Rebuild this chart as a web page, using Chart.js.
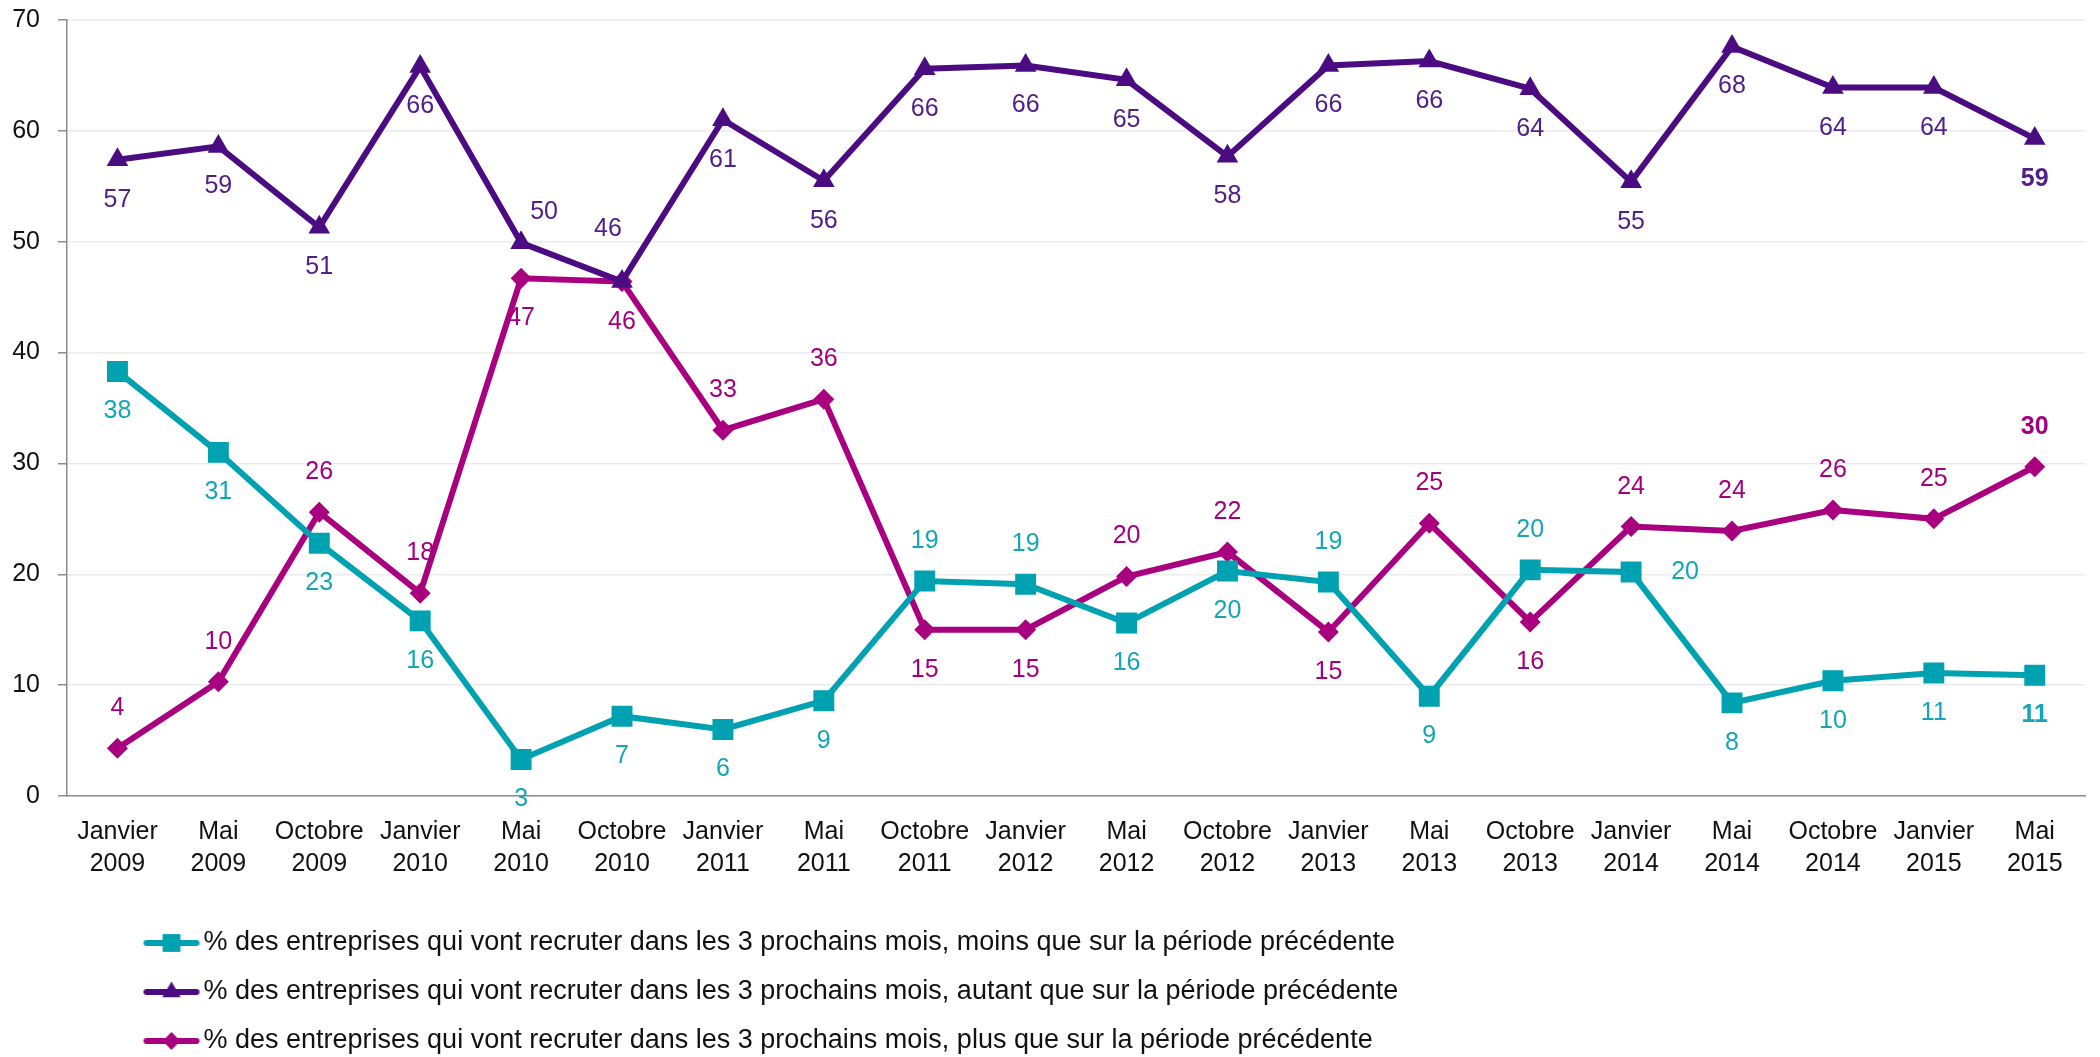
<!DOCTYPE html>
<html><head><meta charset="utf-8">
<script src="https://cdn.jsdelivr.net/npm/chart.js@4.4.0/dist/chart.umd.min.js"></script>
<style>html,body{margin:0;padding:0;background:#fff;}canvas{display:block;}</style>
</head><body>
<canvas id="c" width="2100" height="1057"></canvas>
<script>
const categories = [["Janvier","2009"],["Mai","2009"],["Octobre","2009"],["Janvier","2010"],["Mai","2010"],["Octobre","2010"],["Janvier","2011"],["Mai","2011"],["Octobre","2011"],["Janvier","2012"],["Mai","2012"],["Octobre","2012"],["Janvier","2013"],["Mai","2013"],["Octobre","2013"],["Janvier","2014"],["Mai","2014"],["Octobre","2014"],["Janvier","2015"],["Mai","2015"]];
const seriesNames = [
  "% des entreprises qui vont recruter dans les 3 prochains mois, moins que sur la période précédente",
  "% des entreprises qui vont recruter dans les 3 prochains mois, autant que sur la période précédente",
  "% des entreprises qui vont recruter dans les 3 prochains mois, plus que sur la période précédente"
];
const moins  = [38.3,31.0,22.8,15.8,3.3,7.2,6.0,8.6,19.4,19.1,15.6,20.3,19.3,9.0,20.4,20.2,8.4,10.4,11.1,10.9];
const autant = [57.4,58.6,51.3,65.8,49.9,46.4,61.0,55.5,65.6,65.9,64.6,57.7,65.9,66.3,63.8,55.4,67.6,63.9,63.9,59.3];
const plus   = [4.3,10.3,25.6,18.3,46.7,46.4,33.0,35.8,15.0,15.0,19.8,22.0,14.8,24.6,15.7,24.3,23.9,25.8,25.0,29.7];
const yTicks = [0,10,20,30,40,50,60,70];
// data label placement: a=above, b=below, r=right, ar=above-right, al=above-left
const moinsPos  = ['b','b','b','b','b','b','b','b','a','a','b','b','a','b','a','r','b','b','b','b'];
const autantPos = ['b','b','b','b','ar','al','b','b','b','b','b','b','b','b','b','b','b','b','b','b'];
const plusPos   = ['a','a','a','a','b','b','a','a','b','b','a','a','b','a','b','a','a','a','a','a'];

const COLORS = ['#00A2B2','#4B0C82','#A8007E'];
const LABEL_COLORS = ['#14A6B5','#502088','#A3007C'];
const FONT = "'Liberation Sans', Arial, sans-serif";
const positions = [moinsPos, autantPos, plusPos];

function makeIcon(color, style, r) {
  const c = document.createElement('canvas');
  c.width = 58; c.height = 24;
  const g = c.getContext('2d');
  g.strokeStyle = color; g.lineWidth = 6; g.lineCap = 'round';
  g.beginPath(); g.moveTo(4, 12); g.lineTo(54, 12); g.stroke();
  g.fillStyle = color;
  Chart.helpers.drawPoint(g, {pointStyle: style, radius: r, borderWidth: 0, rotation: 0}, 29, 12);
  return c;
}

const styles = ['rect','triangle','rectRot'];
const radii = [14.8, 12.5, 10.5];
const icons = styles.map((s, i) => makeIcon(COLORS[i], s, radii[i] * 0.85));

const dataLabelsPlugin = {
  id: 'dataLabels',
  afterDatasetsDraw(chart) {
    const ctx = chart.ctx;
    ctx.save();
    ctx.textAlign = 'center';
    ctx.textBaseline = 'middle';
    chart.data.datasets.forEach((ds, di) => {
      const meta = chart.getDatasetMeta(di);
      meta.data.forEach((pt, j) => {
        const last = j === ds.data.length - 1;
        ctx.font = (last ? 'bold ' : '') + '25px ' + FONT;
        ctx.fillStyle = LABEL_COLORS[di];
        const p = positions[di][j];
        let dx = 0, dy = 0;
        if (p === 'a') dy = -40;
        else if (p === 'b') dy = 40;
        else if (p === 'r') dx = 54;
        else if (p === 'ar') { dx = 23; dy = -31; }
        else if (p === 'al') { dx = -14; dy = -53; }
        ctx.fillText(String(Math.round(ds.data[j])), pt.x + dx, pt.y + dy);
      });
    });
    ctx.restore();
  }
};

const legendShiftPlugin = {
  id: 'legendShift',
  afterLayout(chart) {
    const lg = chart.legend;
    if (!lg) return;
    const pad = lg.options.labels.padding;
    const fs = lg.options.labels.font.size;
    const shiftY = 943 - (lg.top + pad + fs / 2);
    lg.top += shiftY; lg.bottom += shiftY;
    lg.left += (153 - (lg.left + pad));
  }
};

const seriesData = [moins, autant, plus];
const datasets = seriesData.map((d, i) => ({
  label: seriesNames[i],
  data: d,
  borderColor: COLORS[i],
  backgroundColor: COLORS[i],
  borderWidth: 6,
  pointStyle: styles[i],
  pointRadius: radii[i],
  pointHoverRadius: radii[i],
  pointBackgroundColor: COLORS[i],
  pointBorderColor: COLORS[i],
  pointBorderWidth: 0,
  tension: 0,
  fill: false
}));

new Chart(document.getElementById('c'), {
  type: 'line',
  data: { labels: categories, datasets: datasets },
  options: {
    responsive: false,
    animation: false,
    devicePixelRatio: 1,
    layout: { padding: { top: 20, right: 13, left: 0, bottom: 0 } },
    plugins: {
      tooltip: { enabled: false },
      legend: {
        position: 'bottom',
        align: 'start',
        labels: {
          usePointStyle: true,
          pointStyleWidth: 37,
          padding: 22,
          color: '#111',
          font: { size: 27, family: FONT },
          generateLabels(chart) {
            const items = Chart.defaults.plugins.legend.labels.generateLabels(chart);
            items.forEach((it, i) => { it.pointStyle = icons[i]; it.lineWidth = 0; });
            return items;
          }
        }
      }
    },
    scales: {
      x: {
        type: 'category',
        offset: true,
        grid: { display: false, drawTicks: false },
        border: { display: true, color: '#8c8c8c', width: 1.5 },
        ticks: { color: '#111', font: { size: 25, family: FONT, lineHeight: 1.28 }, padding: 20, maxRotation: 0, autoSkip: false },
        afterFit(scale) { scale.height = 104; scale.paddingLeft = 0; scale.paddingRight = 0; }
      },
      y: {
        min: 0, max: 70,
        afterBuildTicks(scale) { scale.ticks = yTicks.map(v => ({ value: v })); },
        grid: { color: '#ebebeb', lineWidth: 1.5, tickLength: 9, tickColor: '#8c8c8c', tickWidth: 1.5 },
        border: { display: true, color: '#8c8c8c', width: 1.5 },
        ticks: { color: '#111', font: { size: 25, family: FONT }, padding: 18 },
        afterFit(scale) { scale.width = 67; scale.paddingTop = 0; scale.paddingBottom = 0; }
      }
    }
  },
  plugins: [dataLabelsPlugin, legendShiftPlugin]
});
</script>
</body></html>
